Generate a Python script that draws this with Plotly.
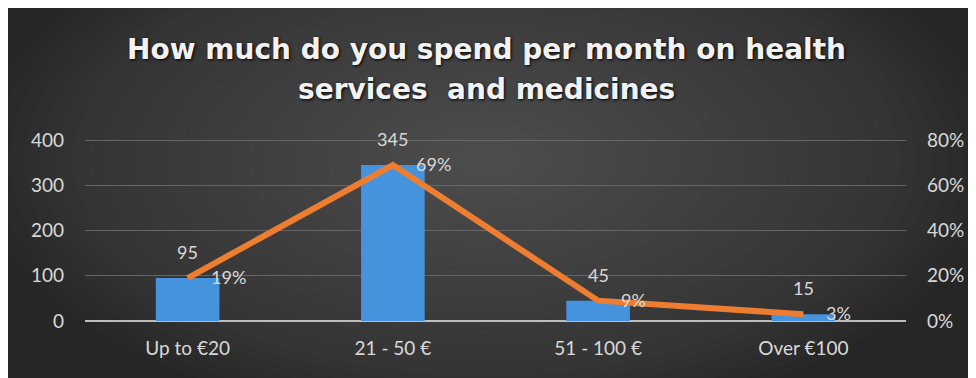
import plotly.graph_objects as go

categories = ["Up to €20", "21 - 50 €", "51 - 100 €", "Over €100"]
counts = [95, 345, 45, 15]
shares = [0.19, 0.69, 0.09, 0.03]
left_ticks = [0, 100, 200, 300, 400]
right_ticks = [0, 0.2, 0.4, 0.6, 0.8]
right_tick_labels = ["0%", "20%", "40%", "60%", "80%"]
title_lines = ["How much do you spend per month on health", "services  and medicines"]

W, H = 968, 370
ML, MR, MT, MB = 77, 67, 130, 57
PW, PH = W - ML - MR, H - MT - MB
TXT = "#d9d9d9"
FONT = "Lato"

fig = go.Figure()

fig.add_trace(
    go.Bar(
        x=categories,
        y=counts,
        marker={"color": "#4592dd", "line": {"width": 0}},
        width=0.31,
        hoverinfo="skip",
    )
)

fig.add_trace(
    go.Scatter(
        x=categories,
        y=shares,
        yaxis="y2",
        mode="lines",
        line={"color": "#ed7d31", "width": 6},
        hoverinfo="skip",
    )
)

# データラベル（棒の上・折れ線の右）
annotations = []
for cat, v in zip(categories, counts):
    annotations.append(dict(x=cat, y=v, xref="x", yref="y", text=str(v), showarrow=False,
                            yanchor="middle", yshift=26,
                            font={"color": TXT, "size": 18, "family": FONT}))
for cat, v in zip(categories, shares):
    annotations.append(dict(x=cat, y=v, xref="x", yref="y2", text=f"{round(v * 100)}%",
                            showarrow=False, xanchor="left", yanchor="middle", xshift=21, yshift=1,
                            font={"color": TXT, "size": 18, "family": FONT}))

# タイトル（2行を個別に配置）
for text, ypix in zip(title_lines, [42, 82]):
    annotations.append(dict(x=(488 - 8 - ML) / PW, y=1 + (MT - ypix) / PH, xref="paper", yref="paper",
                            text=text, showarrow=False, xanchor="center", yanchor="middle",
                            font={"family": "DejaVu Sans", "size": 28, "color": "#f2f2f2",
                                  "weight": "bold", "shadow": "1px 1px 3px #000"}))

# 背景のグラデーション風（同心楕円を重ねる）
shapes = []
cx = (480 - ML) / PW
cy = 1 - (152 - MT) / PH
n = 32
for i in range(n):
    f = 1 - i / n
    hw = 0.62 * f
    hh = 1.45 * f
    shapes.append(dict(type="circle", xref="paper", yref="paper",
                       x0=cx - hw, x1=cx + hw, y0=cy - hh, y1=cy + hh,
                       fillcolor="#999999", opacity=0.018, line_width=0, layer="below"))

fig.update_layout(
    width=W,
    height=H,
    margin={"l": ML, "r": MR, "t": MT, "b": MB},
    paper_bgcolor="#262626",
    plot_bgcolor="rgba(0,0,0,0)",
    showlegend=False,
    bargap=0.69,
    shapes=shapes,
    annotations=annotations,
    font={"family": FONT, "color": TXT, "size": 18},
    xaxis={
        "showgrid": False,
        "showline": False,
        "ticks": "",
        "tickfont": {"color": TXT, "size": 19, "family": FONT},
        "ticklabelstandoff": 14,
    },
    yaxis={
        "range": [0, 405],
        "tickvals": left_ticks,
        "showgrid": True,
        "gridcolor": "#666666",
        "gridwidth": 1,
        "zeroline": True,
        "zerolinecolor": "#bdbdbd",
        "zerolinewidth": 2,
        "tickfont": {"color": TXT, "size": 19, "family": FONT},
        "ticklabelstandoff": 20,
    },
    yaxis2={
        "overlaying": "y",
        "side": "right",
        "range": [0, 0.81],
        "tickvals": right_ticks,
        "ticktext": right_tick_labels,
        "showgrid": False,
        "zeroline": False,
        "tickfont": {"color": TXT, "size": 19, "family": FONT},
        "ticklabelstandoff": 20,
    },
)

fig.write_html("out.html")
